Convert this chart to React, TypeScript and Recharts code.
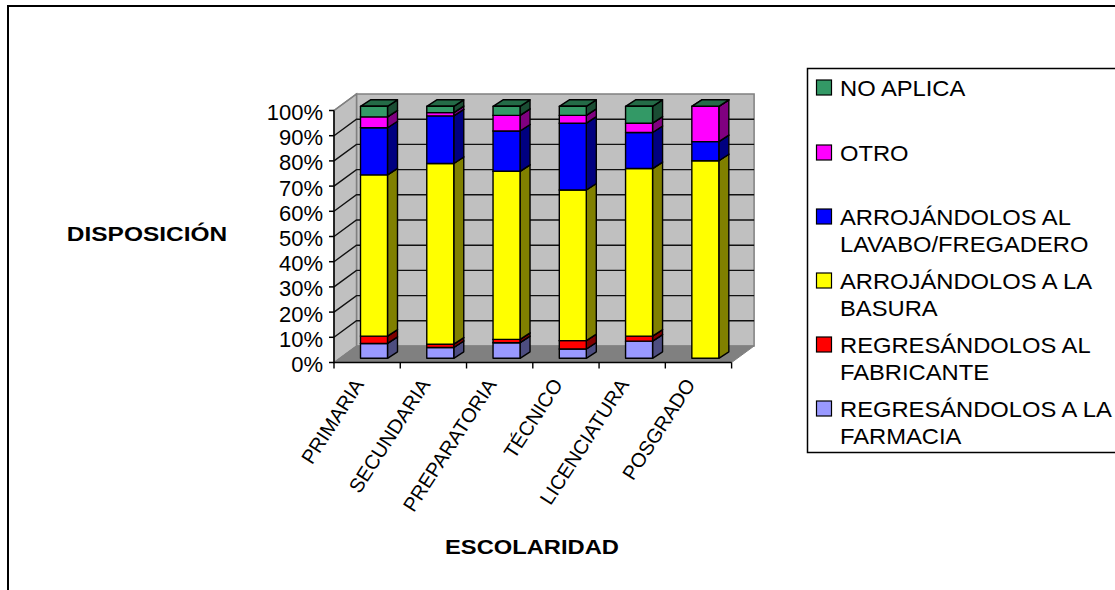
import { BarChart, Bar, XAxis, YAxis, CartesianGrid } from "recharts";

const categories = ["PRIMARIA", "SECUNDARIA", "PREPARATORIA", "TÉCNICO", "LICENCIATURA", "POSGRADO"];
const farmacia = [5.9, 4.3, 6.2, 3.7, 6.8, 0];
const fabricante = [2.9, 1.3, 1.3, 3.3, 2.0, 0];
const basura = [64.0, 71.7, 66.7, 59.8, 66.5, 78.4];
const lavabo = [18.7, 18.9, 16.0, 26.5, 14.3, 7.6];
const otro = [4.3, 1.3, 6.2, 3.1, 3.7, 14.0];
const noAplica = [4.2, 2.5, 3.6, 3.6, 6.7, 0];
const yTicks = [0, 10, 20, 30, 40, 50, 60, 70, 80, 90, 100];

const seriesList = [
  { key: "farmacia", values: farmacia, color: "#9999FF", side: "#4D4D80", top: "#6B6BB3" },
  { key: "fabricante", values: fabricante, color: "#FF0000", side: "#800000", top: "#B30000" },
  { key: "basura", values: basura, color: "#FFFF00", side: "#808000", top: "#B3B300" },
  { key: "lavabo", values: lavabo, color: "#0000FF", side: "#000080", top: "#0000B3" },
  { key: "otro", values: otro, color: "#FF00FF", side: "#800080", top: "#B300B3" },
  { key: "noAplica", values: noAplica, color: "#339966", side: "#1A4D33", top: "#246B47" },
];

const legendRows = [
  { color: "#339966", lines: ["NO APLICA"] },
  { color: "#FF00FF", lines: ["OTRO"] },
  { color: "#0000FF", lines: ["ARROJÁNDOLOS AL", "LAVABO/FREGADERO"] },
  { color: "#FFFF00", lines: ["ARROJÁNDOLOS A LA", "BASURA"] },
  { color: "#FF0000", lines: ["REGRESÁNDOLOS AL", "FABRICANTE"] },
  { color: "#9999FF", lines: ["REGRESÁNDOLOS A LA", "FARMACIA"] },
];
const legendCenters = [88, 153, 217, 281, 345, 409];

const tableData = categories.map((name, i) => {
  const row: Record<string, string | number> = { name };
  seriesList.forEach((s) => {
    row[s.key] = s.values[i];
  });
  return row;
});

const FONT = "'Liberation Sans', Arial, sans-serif";
const WIDTH = 1115;
const HEIGHT = 590;
const LEFT = 334;
const RIGHT = 731.6;
const TOP = 110.5;
const BOTTOM = 362.5;
const WALL_DX = 22.5;
const WALL_DY = -16.5;
const BAR_DX = 6.5;
const BAR_DY = -4.2;
const DEPTH_X = 10;
const DEPTH_Y = -6.5;
const BAND = (RIGHT - LEFT) / categories.length;

function Frame() {
  return (
    <g>
      <path d="M8 600 V6 H1120" fill="none" stroke="#000" strokeWidth={2} />
      <rect x={807.5} y={68.5} width={320} height={384} fill="#fff" stroke="#000" strokeWidth={1.5} />
      {legendRows.map((row, i) => (
        <g key={row.lines[0]}>
          <rect x={816.5} y={legendCenters[i] - 8} width={15} height={15} fill={row.color} stroke="#000" strokeWidth={1.2} />
          {row.lines.map((line, j) => (
            <text
              key={line}
              transform={`translate(840 ${legendCenters[i] + 7.5 + j * 27.5}) scale(1.08 1)`}
              fontSize={22}
              fontFamily={FONT}
              fill="#000"
            >
              {line}
            </text>
          ))}
        </g>
      ))}
      <text transform="translate(147 241) scale(1.165 1)" textAnchor="middle" fontSize={21} fontWeight="bold" fontFamily={FONT}>DISPOSICIÓN</text>
      <text transform="translate(532 554) scale(1.13 1)" textAnchor="middle" fontSize={21} fontWeight="bold" fontFamily={FONT}>ESCOLARIDAD</text>
    </g>
  );
}

function Walls() {
  const backX = LEFT + WALL_DX;
  const backY = TOP + WALL_DY;
  const backB = BOTTOM + WALL_DY;
  return (
    <g>
      <polygon points={`${backX},${backY} ${RIGHT + WALL_DX},${backY} ${RIGHT + WALL_DX},${backB} ${backX},${backB}`} fill="#C0C0C0" stroke="#808080" strokeWidth={1.5} />
      <polygon points={`${LEFT},${TOP} ${backX},${backY} ${backX},${backB} ${LEFT},${BOTTOM}`} fill="#C0C0C0" stroke="#808080" strokeWidth={1.5} />
      <polygon points={`${LEFT},${BOTTOM} ${backX},${backB} ${RIGHT + WALL_DX},${backB} ${RIGHT},${BOTTOM}`} fill="#808080" stroke="#808080" />
    </g>
  );
}

// the grid sits under everything else, so the walls are painted with its first line
function GridLine(props: any) {
  const y = props.y1 as number;
  return (
    <g>
      {props.index === 0 && <Walls />}
      {Math.abs(y - BOTTOM) > 1 && Math.abs(y - TOP) > 1 && (
        <path
          d={`M${LEFT} ${y} L${LEFT + WALL_DX} ${y + WALL_DY} H${RIGHT + WALL_DX}`}
          fill="none"
          stroke="#111"
          strokeWidth={1.4}
        />
      )}
      {Math.abs(y - TOP) <= 1 && (
        <line x1={LEFT} y1={y} x2={LEFT + WALL_DX} y2={y + WALL_DY} stroke="#808080" strokeWidth={1.5} />
      )}
    </g>
  );
}

function Box3D(props: any) {
  const { x, y, width, height, fill, side, top, showTop } = props;
  if (height === undefined || (height <= 0 && !showTop)) return null;
  const fx = x + BAR_DX;
  const fy = y + BAR_DY;
  const h = Math.max(height, 0);
  return (
    <g stroke="#000" strokeWidth={1.4} strokeLinejoin="round">
      <polygon points={`${fx + width},${fy} ${fx + width + DEPTH_X},${fy + DEPTH_Y} ${fx + width + DEPTH_X},${fy + DEPTH_Y + h} ${fx + width},${fy + h}`} fill={side} />
      <polygon points={`${fx},${fy} ${fx + DEPTH_X},${fy + DEPTH_Y} ${fx + width + DEPTH_X},${fy + DEPTH_Y} ${fx + width},${fy}`} fill={top} />
      {h > 0 && <rect x={fx} y={fy} width={width} height={h} fill={fill} />}
    </g>
  );
}

function CategoryTick(props: any) {
  const { x, payload, index } = props;
  const ax = x - 2.5;
  const ay = BOTTOM + 22;
  return (
    <g>
      <line x1={x - BAND / 2} y1={BOTTOM} x2={x - BAND / 2} y2={BOTTOM + 6} stroke="#000" strokeWidth={1.4} />
      {index === categories.length - 1 && (
        <line x1={x + BAND / 2} y1={BOTTOM} x2={x + BAND / 2} y2={BOTTOM + 6} stroke="#000" strokeWidth={1.4} />
      )}
      <text
        x={ax}
        y={ay}
        textAnchor="end"
        fontSize={20}
        fontFamily={FONT}
        fill="#000"
        transform={`rotate(-57 ${ax} ${ay})`}
      >
        {payload.value}
      </text>
    </g>
  );
}

function PercentTick(props: any) {
  const { y, payload } = props;
  return (
    <text x={323} y={y + 9.4} textAnchor="end" fontSize={22} fontFamily={FONT} fill="#000">
      {`${payload.value}%`}
    </text>
  );
}

export default function App() {
  return (
    <div style={{ position: "absolute", left: 0, top: 0, width: WIDTH, height: HEIGHT, overflow: "hidden", background: "#fff" }}>
      <BarChart
        width={WIDTH}
        height={HEIGHT}
        data={tableData}
        margin={{ left: 0, top: TOP, right: WIDTH - RIGHT, bottom: 0 }}
        barSize={27}
        barCategoryGap={0}
      >
        <Frame />
        <CartesianGrid vertical={false} horizontal={GridLine} />
        <XAxis
          dataKey="name"
          height={HEIGHT - BOTTOM}
          stroke="#000"
          strokeWidth={1.5}
          tickLine={false}
          interval={0}
          tick={CategoryTick}
        />
        <YAxis
          domain={[0, 100]}
          ticks={yTicks}
          width={LEFT}
          stroke="#000"
          strokeWidth={1.5}
          tickSize={5}
          tick={PercentTick}
          interval={0}
        />
        {seriesList.map((s, i) => (
          <Bar
            key={s.key}
            dataKey={s.key}
            stackId="a"
            fill={s.color}
            isAnimationActive={false}
            shape={(p: any) => <Box3D {...p} side={s.side} top={s.top} showTop={i === seriesList.length - 1} />}
          />
        ))}
      </BarChart>
    </div>
  );
}
